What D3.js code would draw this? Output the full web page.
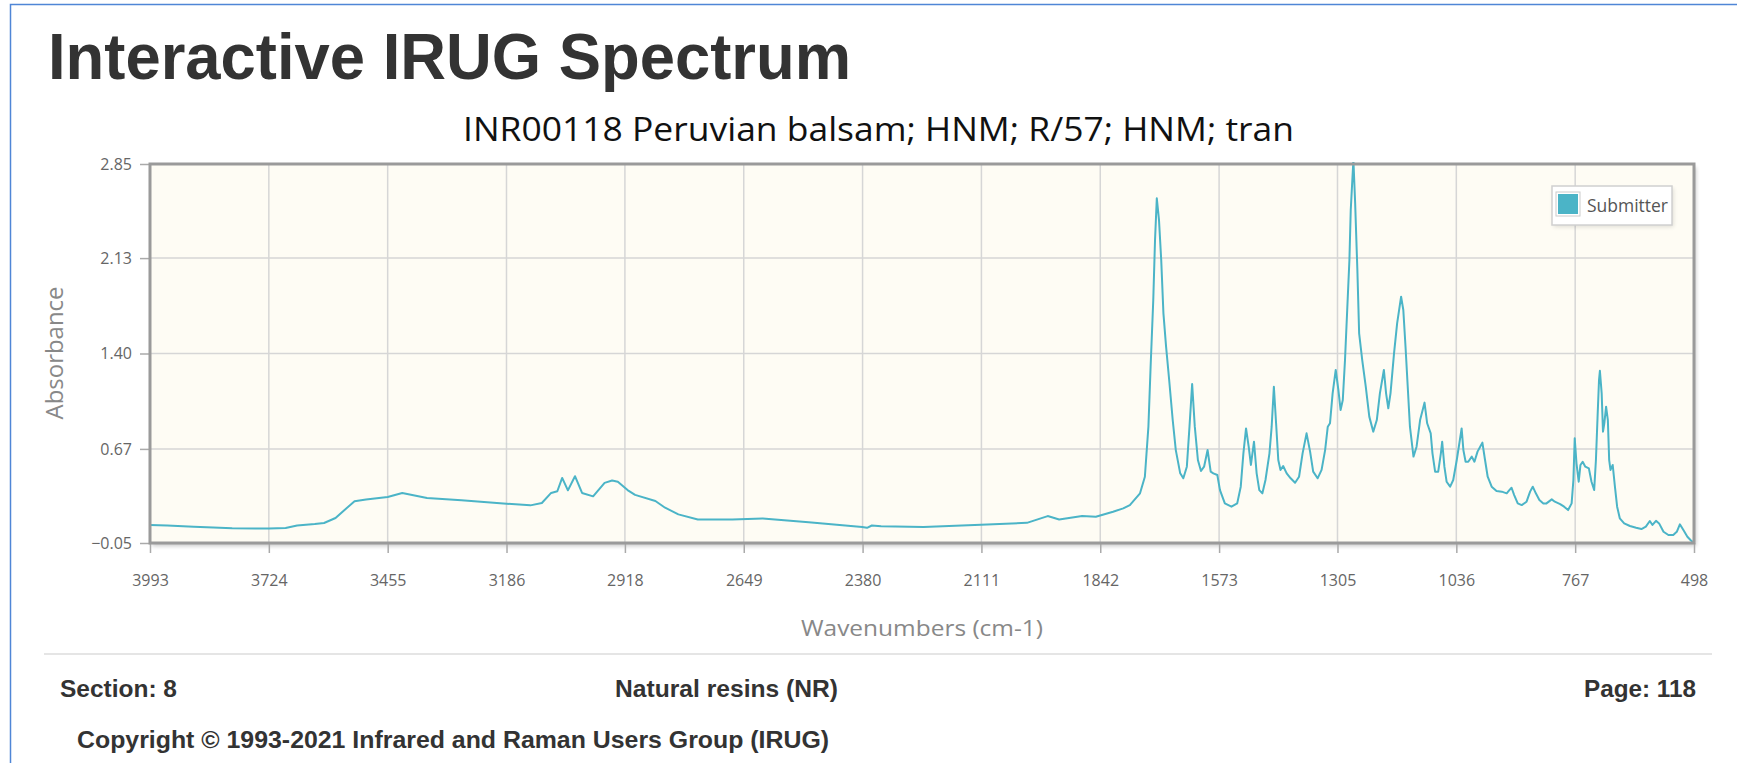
<!DOCTYPE html>
<html>
<head>
<meta charset="utf-8">
<script src="https://cdn.jsdelivr.net/npm/d3@7"></script>
<style>
  html, body { margin: 0; padding: 0; background: #fff; overflow: hidden; }
  svg { display: block; }
  .chartText { font-family: "Open Sans", "DejaVu Sans", sans-serif; }
  .pageText { font-family: "Liberation Sans", Arial, sans-serif; font-weight: bold; fill: #333; }
</style>
</head>
<body>
<svg id="page" width="1737" height="763"></svg>
<script>
// Spectrum (cm-1, absorbance)
const wavenumbers = [
  3993, 3954, 3894, 3850, 3807, 3724, 3686, 3660, 3620, 3599, 3573, 3552, 3530, 3504, 3455, 3422,
  3366, 3288, 3186, 3132, 3106, 3085, 3071, 3060, 3047, 3031, 3015, 2990, 2964, 2947, 2934, 2912,
  2895, 2849, 2827, 2797, 2753, 2675, 2606, 2502, 2381, 2370, 2359, 2338, 2242, 2112, 2008, 1961,
  1935, 1883, 1852, 1813, 1790, 1775, 1752, 1741, 1733, 1728, 1722, 1718, 1714, 1709, 1704, 1699,
  1693, 1686, 1678, 1671, 1661, 1654, 1646, 1640, 1634, 1628, 1621, 1614, 1607, 1599, 1592, 1586,
  1577, 1571, 1560, 1545, 1532, 1524, 1518, 1512, 1506, 1501, 1494, 1488, 1482, 1475, 1468, 1459,
  1454, 1449, 1444, 1439, 1434, 1428, 1420, 1411, 1401, 1392, 1384, 1375, 1367, 1360, 1350, 1341,
  1333, 1327, 1322, 1316, 1309, 1303, 1298, 1293, 1288, 1283, 1278, 1275, 1269, 1265, 1260, 1256,
  1249, 1241, 1233, 1224, 1216, 1209, 1200, 1195, 1190, 1185, 1177, 1170, 1161, 1156, 1151, 1146,
  1141, 1133, 1126, 1118, 1108, 1102, 1094, 1090, 1084, 1077, 1071, 1068, 1063, 1058, 1050, 1043,
  1035, 1028, 1024, 1020, 1015, 1009, 1001, 995, 988, 982, 977, 971, 965, 956, 945, 933,
  922, 916, 911, 905, 897, 888, 877, 869, 863, 856, 848, 839, 832, 820, 813, 801,
  792, 783, 775, 771, 768, 764, 759, 755, 750, 744, 736, 730, 724, 720, 716, 713,
  711, 707, 704, 701, 697, 693, 690, 687, 682, 677, 672, 666, 656, 643, 629, 617,
  607, 598, 592, 584, 577, 567, 556, 545, 537, 530, 522, 513, 506, 499
]
const absorbance = [
  0.087, 0.083, 0.074, 0.068, 0.063, 0.060, 0.065, 0.084, 0.095, 0.103, 0.141, 0.205, 0.269, 0.282, 0.302, 0.333,
  0.295, 0.277, 0.251, 0.238, 0.256, 0.333, 0.346, 0.448, 0.353, 0.461, 0.333, 0.307, 0.410, 0.428, 0.418, 0.355,
  0.318, 0.271, 0.220, 0.169, 0.130, 0.130, 0.138, 0.109, 0.073, 0.066, 0.084, 0.079, 0.073, 0.089, 0.104, 0.156,
  0.130, 0.156, 0.151, 0.189, 0.215, 0.240, 0.330, 0.457, 0.840, 1.300, 1.810, 2.270, 2.587, 2.420, 2.115, 1.707,
  1.452, 1.197, 0.891, 0.661, 0.483, 0.445, 0.534, 0.840, 1.167, 0.840, 0.585, 0.501, 0.534, 0.661, 0.496, 0.483,
  0.470, 0.355, 0.253, 0.228, 0.253, 0.381, 0.636, 0.827, 0.687, 0.547, 0.725, 0.483, 0.355, 0.330, 0.432, 0.636,
  0.840, 1.146, 0.866, 0.585, 0.509, 0.539, 0.483, 0.445, 0.411, 0.457, 0.636, 0.789, 0.649, 0.496, 0.445, 0.509,
  0.661, 0.840, 0.866, 1.095, 1.274, 1.121, 0.968, 1.044, 1.350, 1.733, 2.115, 2.498, 2.880, 2.549, 2.039, 1.554,
  1.350, 1.146, 0.917, 0.802, 0.891, 1.095, 1.274, 1.095, 0.981, 1.095, 1.401, 1.631, 1.835, 1.733, 1.452, 1.146,
  0.840, 0.611, 0.687, 0.891, 1.024, 0.866, 0.789, 0.636, 0.496, 0.496, 0.636, 0.725, 0.534, 0.419, 0.381, 0.432,
  0.585, 0.738, 0.827, 0.661, 0.572, 0.572, 0.611, 0.572, 0.649, 0.687, 0.718, 0.585, 0.457, 0.381, 0.348, 0.343,
  0.330, 0.355, 0.373, 0.317, 0.253, 0.240, 0.266, 0.343, 0.381, 0.330, 0.279, 0.253, 0.253, 0.284, 0.266, 0.248,
  0.228, 0.202, 0.253, 0.432, 0.751, 0.560, 0.419, 0.547, 0.572, 0.534, 0.521, 0.419, 0.355, 0.585, 0.942, 1.197,
  1.268, 1.095, 0.802, 0.866, 0.993, 0.891, 0.585, 0.509, 0.547, 0.381, 0.228, 0.139, 0.100, 0.080, 0.067, 0.057,
  0.075, 0.118, 0.088, 0.120, 0.100, 0.036, 0.011, 0.011, 0.036, 0.093, 0.049, -0.002, -0.027, -0.048
]

const xTicks = [3993, 3724, 3455, 3186, 2918, 2649, 2380, 2111, 1842, 1573, 1305, 1036, 767, 498]
const yTicks = [-0.05, 0.67, 1.40, 2.13, 2.85]

const pageTitle = "Interactive IRUG Spectrum"
const chartTitle = "INR00118 Peruvian balsam; HNM; R/57; HNM; tran"
const seriesName = "Submitter"
const xLabel = "Wavenumbers (cm-1)"
const yLabel = "Absorbance"
const footerLeft = "Section: 8"
const footerMid = "Natural resins (NR)"
const footerRight = "Page: 118"
const copyright = "Copyright \u00a9 1993-2021 Infrared and Raman Users Group (IRUG)"

const lineColour = "#4bb4c7"

// Plot box
const plot = { left: 150, top: 164, right: 1694, bottom: 543 }

const svg = d3.select("#page")
const defs = svg.append("defs")

defs.append("clipPath")
  .attr("id", "plotClip")
  .append("rect")
  .attr("x", plot.left)
  .attr("y", plot.top - 2)
  .attr("width", plot.right - plot.left)
  .attr("height", plot.bottom - plot.top + 2)

let shadow = defs.append("filter")
  .attr("id", "shadow")
  .attr("x", "-5%").attr("y", "-5%")
  .attr("width", "110%").attr("height", "115%")
shadow.append("feGaussianBlur").attr("stdDeviation", 2)

// Blue page frame (left and top edges of the capture)
svg.append("path")
  .attr("d", "M10.5,763V4.5H1737")
  .attr("fill", "none")
  .attr("stroke", "#4f86d6")
  .attr("stroke-width", 1.5)

svg.append("text")
  .attr("class", "pageText")
  .attr("x", 48)
  .attr("y", 79)
  .attr("font-size", 64)
  .attr("textLength", 803)
  .attr("lengthAdjust", "spacingAndGlyphs")
  .text(pageTitle)

svg.append("text")
  .attr("class", "chartText")
  .attr("x", 463)
  .attr("y", 141)
  .attr("font-size", 32)
  .attr("fill", "#111")
  .attr("textLength", 831)
  .attr("lengthAdjust", "spacingAndGlyphs")
  .text(chartTitle)

const x = d3.scaleLinear()
  .domain([xTicks[0], xTicks[xTicks.length - 1]])
  .range([plot.left, plot.right])
const y = d3.scaleLinear()
  .domain([yTicks[0], yTicks[yTicks.length - 1]])
  .range([plot.bottom, plot.top])

// Frame shadow, then background
svg.append("rect")
  .attr("x", plot.left + 2)
  .attr("y", plot.top + 3)
  .attr("width", plot.right - plot.left)
  .attr("height", plot.bottom - plot.top)
  .attr("fill", "#000")
  .attr("opacity", 0.22)
  .attr("filter", "url(#shadow)")

svg.append("rect")
  .attr("x", plot.left)
  .attr("y", plot.top)
  .attr("width", plot.right - plot.left)
  .attr("height", plot.bottom - plot.top)
  .attr("fill", "#fefcf4")

// Grid lines
let grid = svg.append("g").attr("class", "grid")
grid.selectAll("line.vgrid")
  .data(xTicks.slice(1, -1))
  .join("line")
  .attr("class", "vgrid")
  .attr("x1", d => x(d)).attr("x2", d => x(d))
  .attr("y1", plot.top).attr("y2", plot.bottom)
  .attr("stroke", "#d6d6d6")
  .attr("stroke-width", 1.5)
grid.selectAll("line.hgrid")
  .data(yTicks.slice(1, -1))
  .join("line")
  .attr("class", "hgrid")
  .attr("y1", d => y(d)).attr("y2", d => y(d))
  .attr("x1", plot.left).attr("x2", plot.right)
  .attr("stroke", "#d6d6d6")
  .attr("stroke-width", 1.5)

// Axes
let xAxis = svg.append("g")
  .attr("class", "chartText")
  .attr("transform", `translate(0,${plot.bottom})`)
  .call(d3.axisBottom(x).tickValues(xTicks).tickSize(10).tickPadding(22).tickFormat(d3.format("d")))
xAxis.select(".domain").remove()
xAxis.selectAll(".tick line").attr("stroke", "#aaa").attr("stroke-width", 1.5)
xAxis.selectAll(".tick text").attr("fill", "#666").attr("font-size", 16)
  .attr("font-family", "'Open Sans', sans-serif")

let yAxis = svg.append("g")
  .attr("class", "chartText")
  .attr("transform", `translate(${plot.left},0)`)
  .call(d3.axisLeft(y).tickValues(yTicks).tickSize(10).tickPadding(8).tickFormat(d3.format(".2f")))
yAxis.select(".domain").remove()
yAxis.selectAll(".tick line").attr("stroke", "#aaa").attr("stroke-width", 1.5)
yAxis.selectAll(".tick text").attr("fill", "#666").attr("font-size", 16)
  .attr("font-family", "'Open Sans', sans-serif")

// Spectrum line
const points = wavenumbers.map((w, i) => [w, absorbance[i]])
const line = d3.line()
  .x(d => x(d[0]))
  .y(d => y(d[1]))

svg.append("path")
  .datum(points)
  .attr("clip-path", "url(#plotClip)")
  .attr("fill", "none")
  .attr("stroke", lineColour)
  .attr("stroke-width", 2)
  .attr("stroke-linejoin", "round")
  .attr("d", line)

// Plot frame
svg.append("rect")
  .attr("x", plot.left)
  .attr("y", plot.top)
  .attr("width", plot.right - plot.left)
  .attr("height", plot.bottom - plot.top)
  .attr("fill", "none")
  .attr("stroke", "#9a9a9a")
  .attr("stroke-width", 3)

// Legend
let legend = svg.append("g")
  .attr("class", "legend")
  .attr("transform", "translate(1552,186)")
legend.append("rect")
  .attr("x", 1.5).attr("y", 2)
  .attr("width", 120).attr("height", 39)
  .attr("fill", "#000").attr("opacity", 0.12)
  .attr("filter", "url(#shadow)")
legend.append("rect")
  .attr("width", 120).attr("height", 39)
  .attr("fill", "#fff")
  .attr("stroke", "#d0d0d0")
  .attr("stroke-width", 1.5)
legend.append("rect")
  .attr("x", 4).attr("y", 6)
  .attr("width", 24).attr("height", 24)
  .attr("fill", "#fff")
  .attr("stroke", "#ccc")
legend.append("rect")
  .attr("x", 6).attr("y", 8)
  .attr("width", 20).attr("height", 20)
  .attr("fill", lineColour)
legend.append("text")
  .attr("class", "chartText")
  .attr("x", 35).attr("y", 26)
  .attr("font-size", 19)
  .attr("fill", "#555")
  .attr("textLength", 81)
  .attr("lengthAdjust", "spacingAndGlyphs")
  .text(seriesName)

// Axis titles
svg.append("text")
  .attr("class", "chartText")
  .attr("x", (plot.left + plot.right) / 2 - 121)
  .attr("y", 636)
  .attr("font-size", 22)
  .attr("fill", "#888")
  .attr("textLength", 242)
  .attr("lengthAdjust", "spacingAndGlyphs")
  .text(xLabel)

svg.append("text")
  .attr("class", "chartText")
  .attr("transform", `translate(63,${(plot.top + plot.bottom) / 2 + 66}) rotate(-90)`)
  .attr("font-size", 23)
  .attr("fill", "#888")
  .attr("textLength", 133)
  .attr("lengthAdjust", "spacingAndGlyphs")
  .text(yLabel)

// Footer
svg.append("line")
  .attr("x1", 44).attr("x2", 1712)
  .attr("y1", 654).attr("y2", 654)
  .attr("stroke", "#ddd")
  .attr("stroke-width", 1.5)

svg.append("text").attr("class", "pageText")
  .attr("x", 60).attr("y", 697).attr("font-size", 24)
  .attr("textLength", 117).attr("lengthAdjust", "spacingAndGlyphs")
  .text(footerLeft)
svg.append("text").attr("class", "pageText")
  .attr("x", 615).attr("y", 697).attr("font-size", 24)
  .attr("textLength", 223).attr("lengthAdjust", "spacingAndGlyphs")
  .text(footerMid)
svg.append("text").attr("class", "pageText")
  .attr("x", 1584).attr("y", 697).attr("font-size", 24)
  .attr("textLength", 112).attr("lengthAdjust", "spacingAndGlyphs")
  .text(footerRight)
svg.append("text").attr("class", "pageText")
  .attr("x", 77).attr("y", 748).attr("font-size", 24)
  .attr("textLength", 752).attr("lengthAdjust", "spacingAndGlyphs")
  .text(copyright)
</script>
</body>
</html>
